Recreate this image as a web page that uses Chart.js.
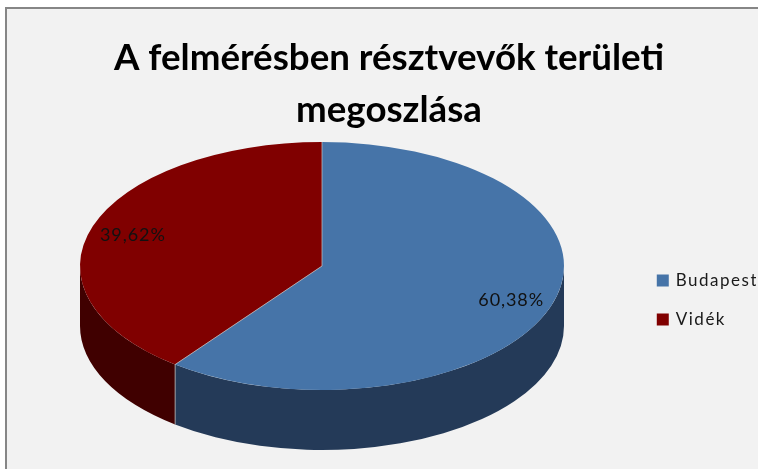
<!DOCTYPE html>
<html><head><meta charset="utf-8">
<script src="https://cdn.jsdelivr.net/npm/chart.js@4/dist/chart.umd.min.js"></script>
<style>html,body{margin:0;padding:0;background:#fff;overflow:hidden}
#w{position:absolute;left:0;top:0;width:758px;height:469px}</style>
</head><body><div id="w"><canvas id="c" width="758" height="469"></canvas></div>
<script>
const titleLines = ["A felmérésben résztvevők területi", "megoszlása"];
const categories = ["Budapest", "Vidék"];
const shares = [60.38, 39.62];
const topColors = ["#4674A8", "#800000"];
const sideColors = ["#243A58", "#400000"];
const pieView = {cx: 322, cy: 266, rx: 242, ry: 124, depth: 60};
const labelRadius = 0.825;

const pie3d = {
  id: 'pie3d',
  afterInit(chart) {
    const lg = chart.legend, draw = lg.draw;
    lg.draw = function () {
      const c = chart.ctx; c.save(); c.letterSpacing = '1.5px'; draw.call(this); c.restore();
    };
  },
  beforeDraw(chart) {
    const c = chart.ctx;
    c.save();
    c.fillStyle = '#F2F2F2'; c.fillRect(5, 7, 753, 462);
    c.fillStyle = '#868686'; c.fillRect(5, 7, 753, 2); c.fillRect(5, 7, 2, 462);
    c.restore();
  },
  beforeDatasetsDraw(chart) {
    const c = chart.ctx, v = pieView, arcs = chart.getDatasetMeta(0).data;
    arcs.forEach((a, i) => {
      const s = Math.max(a.startAngle, 0), e = Math.min(a.endAngle, Math.PI);
      if (e <= s) return;
      c.beginPath();
      c.ellipse(v.cx, v.cy, v.rx, v.ry, 0, s, e);
      c.ellipse(v.cx, v.cy + v.depth, v.rx, v.ry, 0, e, s, true);
      c.closePath();
      c.fillStyle = sideColors[i]; c.fill();
    });
    const a0 = arcs[0], k = v.rx / a0.outerRadius, m = v.ry / a0.outerRadius;
    c.save();
    c.translate(v.cx, v.cy); c.scale(k, m); c.translate(-a0.x, -a0.y);
  },
  afterDatasetsDraw(chart) {
    const c = chart.ctx, v = pieView, arcs = chart.getDatasetMeta(0).data;
    c.restore();
    c.save();
    c.strokeStyle = 'rgba(190,190,190,0.75)'; c.lineWidth = 1;
    c.beginPath();
    arcs.forEach(a => {
      const x = v.cx + v.rx * Math.cos(a.startAngle), y = v.cy + v.ry * Math.sin(a.startAngle);
      c.moveTo(v.cx, v.cy); c.lineTo(x, y);
      if (Math.sin(a.startAngle) > -0.5) { c.moveTo(x, y); c.lineTo(x, y + v.depth); }
    });
    c.stroke();
    c.font = '18px Lato'; c.fillStyle = '#111'; c.textAlign = 'center'; c.textBaseline = 'middle';
    c.letterSpacing = '0.9px';
    arcs.forEach((a, i) => {
      const mid = (a.startAngle + a.endAngle) / 2;
      const x = v.cx + v.rx * labelRadius * Math.cos(mid), y = v.cy + v.ry * labelRadius * Math.sin(mid) + 1.5;
      c.fillText(shares[i].toFixed(2).replace('.', ',') + '%', x, y);
    });
    c.restore();
  }
};

new Chart(document.getElementById('c'), {
  type: 'pie',
  data: {labels: categories, datasets: [{data: shares, backgroundColor: topColors, borderWidth: 0, clip: false}]},
  options: {
    responsive: false, animation: false,
    layout: {padding: {top: 0, right: 2, bottom: 119, left: 22}},
    plugins: {
      tooltip: {enabled: false},
      title: {display: true, text: titleLines, color: '#000', padding: {top: 32, bottom: 0},
        font: {family: 'Lato', size: 36.7, weight: 'bold', lineHeight: 1.42}},
      legend: {position: 'right', align: 'end',
        labels: {boxWidth: 9, boxHeight: 9, padding: 22, color: '#1a1a1a', font: {family: 'Lato', size: 17},
          generateLabels(chart) {
            return Chart.overrides.pie.plugins.legend.labels.generateLabels(chart)
              .map(l => ({...l, lineWidth: 3, strokeStyle: l.fillStyle}));
          }}}
    }
  },
  plugins: [pie3d]
});
</script></body></html>
